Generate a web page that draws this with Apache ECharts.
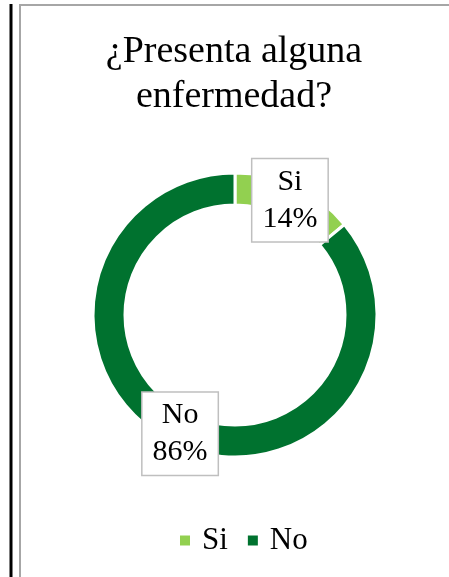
<!DOCTYPE html>
<html>
<head>
<meta charset="utf-8">
<script src="https://cdn.jsdelivr.net/npm/echarts@6/dist/echarts.min.js"></script>
<style>
html,body{margin:0;padding:0;background:#fff;}
#main{width:449px;height:577px;}
</style>
</head>
<body>
<div id="main"></div>
<script>
const titleText = '¿Presenta alguna\nenfermedad?';
const categories = ['Si', 'No'];
const values = [14, 86];
const colors = ['#92D050', '#00722F'];

const FONT = '"Liberation Serif", "Times New Roman", serif';
const chart = echarts.init(document.getElementById('main'));
chart.setOption({
  animation: false,
  backgroundColor: '#fff',
  title: {
    text: titleText,
    left: 234,
    textAlign: 'center',
    top: 30,
    padding: 0,
    textStyle: {
      fontFamily: FONT,
      fontSize: 38,
      fontWeight: 'normal',
      color: '#000',
      lineHeight: 45
    }
  },
  legend: {
    top: 525,
    left: 178,
    icon: 'rect',
    itemWidth: 12,
    itemHeight: 12,
    itemGap: 18,
    padding: 0,
    data: categories,
    textStyle: {
      fontFamily: FONT,
      fontSize: 31,
      color: '#000',
      padding: [0, 0, 0, 6]
    }
  },
  graphic: [
    { type: 'line', shape: { x1: 11, y1: 4, x2: 11, y2: 577 }, style: { stroke: '#000', lineWidth: 3 } },
    { type: 'polyline', shape: { points: [[20, 590], [20, 5], [460, 5]] }, style: { stroke: '#a6a6a6', lineWidth: 2, fill: null } }
  ],
  series: [{
    type: 'pie',
    center: [235, 315],
    radius: [110, 142],
    startAngle: 90,
    clockwise: true,
    avoidLabelOverlap: false,
    itemStyle: { borderColor: '#fff', borderWidth: 3 },
    label: {
      show: true,
      position: 'inside',
      formatter: function (p) { return p.name + '\n' + Math.round(p.percent) + '%'; },
      fontFamily: FONT,
      fontSize: 30,
      lineHeight: 37,
      color: '#000',
      backgroundColor: '#fff',
      borderColor: '#bfbfbf',
      borderWidth: 1.5,
      padding: [6, 10, 2, 10],
      offset: [0, 2],
      align: 'center'
    },
    labelLine: { show: false },
    emphasis: { disabled: true },
    data: categories.map((c, i) => ({ name: c, value: values[i], itemStyle: { color: colors[i] } }))
  }]
});
</script>
</body>
</html>
